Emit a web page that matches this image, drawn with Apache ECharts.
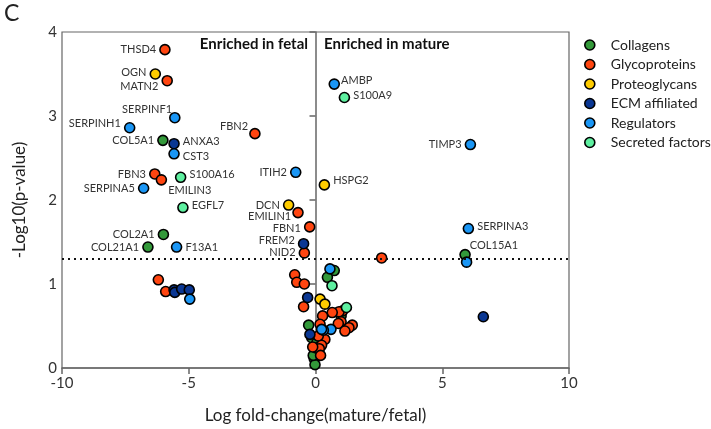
<!DOCTYPE html>
<html>
<head>
<meta charset="utf-8">
<script src="https://cdn.jsdelivr.net/npm/echarts@6/dist/echarts.min.js"></script>
<style>
  html, body { margin: 0; padding: 0; background: #fff; }
  #chart { width: 711px; height: 429px; }
</style>
</head>
<body>
<div id="chart"></div>
<script>
// categories
var categories = ['Collagens', 'Glycoproteins', 'Proteoglycans', 'ECM affiliated', 'Regulators', 'Secreted factors'];
var catColors = ['#33993a', '#ff4510', '#ffcc00', '#0a3793', '#1a96f5', '#5ef0a0'];

// values per category: log fold-change, -log10(p), gene name ('' = unlabeled)
var collagenX = [-6.02, -6.0, -6.61, 5.90, 0.74, 0.47, 1.01, -0.27, -0.15, 0.05, 0.05, -0.05, -0.02, -0.09, 0.02];
var collagenY = [2.71, 1.59, 1.44, 1.35, 1.16, 1.08, 0.62, 0.51, 0.36, 0.30, 0.19, 0.11, 0.04, 0.15, 0.24];
var collagenNames = ['COL5A1', 'COL2A1', 'COL21A1', 'COL15A1', '', '', '', '', '', '', '', '', '', '', ''];

var glycoX = [-5.94, -5.85, -2.39, -6.34, -6.08, -0.69, -0.23, -0.44, 2.61, -6.20, -5.91, -0.82, -0.74, -0.44, -0.47, 1.07, 0.93, 0.66, 0.28, 1.01, 0.90, 1.45, 1.32, 1.16, 0.18, 0.37, 0.11, 0.24, 0.15, -0.11, 0.20];
var glycoY = [3.79, 3.42, 2.79, 2.31, 2.24, 1.85, 1.68, 1.37, 1.31, 1.05, 0.91, 1.11, 1.02, 1.00, 0.73, 0.68, 0.67, 0.66, 0.62, 0.55, 0.53, 0.51, 0.48, 0.44, 0.52, 0.34, 0.38, 0.27, 0.23, 0.25, 0.15];
var glycoNames = ['THSD4', 'MATN2', 'FBN2', 'FBN3', 'EMILIN3', 'EMILIN1', 'FBN1', 'NID2', '', '', '', '', '', '', '', '', '', '', '', '', '', '', '', '', '', '', '', '', '', '', ''];

var proteoX = [-6.32, -1.06, 0.35, 0.18, 0.37];
var proteoY = [3.50, 1.94, 2.18, 0.82, 0.76];
var proteoNames = ['OGN', 'DCN', 'HSPG2', '', ''];

var ecmX = [-5.58, -0.47, -5.58, -5.55, -5.28, -4.98, 6.62, -0.31, -0.22];
var ecmY = [2.67, 1.48, 0.93, 0.90, 0.94, 0.93, 0.61, 0.84, 0.40];
var ecmNames = ['ANXA3', 'FREM2', '', '', '', '', '', '', ''];

var regX = [-5.55, -7.33, -5.58, -6.78, -0.78, -5.48, 0.74, 6.11, 6.03, 5.96, -4.96, 0.57, 0.61, 0.31, 0.24];
var regY = [2.98, 2.86, 2.55, 2.14, 2.33, 1.44, 3.38, 2.66, 1.66, 1.26, 0.82, 1.18, 0.46, 0.45, 0.46];
var regNames = ['SERPINF1', 'SERPINH1', 'CST3', 'SERPINA5', 'ITIH2', 'F13A1', 'AMBP', 'TIMP3', 'SERPINA3', '', '', '', '', '', ''];

var secX = [-5.32, -5.23, 1.14, 0.65, 1.22];
var secY = [2.27, 1.91, 3.22, 0.98, 0.72];
var secNames = ['S100A16', 'EGFL7', 'S100A9', '', ''];

var xTicks = [-10, -5, 0, 5, 10];
var yTicks = [0, 1, 2, 3, 4];
var pCutoff = 1.3;

// label placement: side, dx, dy
var labelPos = {
  THSD4: ['left', 0, 0], MATN2: ['left', 0, 6], FBN2: ['left', 2, -7],
  FBN3: ['left', 0, 0], EMILIN3: ['right', -2, 11], EMILIN1: ['left', 2, 4],
  FBN1: ['left', 0, 2], NID2: ['left', 0, 0], OGN: ['left', 0, -2],
  DCN: ['left', 0, 0], HSPG2: ['right', 0, -4], ANXA3: ['right', 0, -2],
  FREM2: ['left', 0, -3], SERPINF1: ['left', 6, -8], SERPINH1: ['left', 0, -4],
  CST3: ['right', 0, 3], SERPINA5: ['left', 0, 0], ITIH2: ['left', 0, 0],
  F13A1: ['right', 0, 0], AMBP: ['right', -2, -4], TIMP3: ['left', 0, 0],
  SERPINA3: ['right', 0, -2], S100A16: ['right', 0, -3], EGFL7: ['right', 0, -2],
  S100A9: ['right', 0, -2], COL5A1: ['left', 0, 0], COL2A1: ['left', 0, 0],
  COL21A1: ['left', 0, 0], COL15A1: ['right', -4, -9]
};

function buildData(xs, ys, names) {
  return xs.map(function (x, i) {
    var item = { value: [x, ys[i]], name: names[i] };
    var p = labelPos[names[i]];
    if (names[i] && p) {
      item.label = { show: true, position: p[0], offset: [p[1], p[2]] };
    }
    return item;
  });
}

var groups = [
  [collagenX, collagenY, collagenNames],
  [glycoX, glycoY, glycoNames],
  [proteoX, proteoY, proteoNames],
  [ecmX, ecmY, ecmNames],
  [regX, regY, regNames],
  [secX, secY, secNames]
];

var series = [{
  type: 'line',
  data: [],
  silent: true,
  markLine: {
    silent: true,
    symbol: 'none',
    label: { show: false },
    data: [
      [{ coord: [0, -0.1] }, { coord: [0, 4] }],
      [{ coord: [-10, pCutoff], lineStyle: { color: '#111', width: 2, type: [2, 4] } }, { coord: [10, pCutoff] }]
    ],
    lineStyle: { color: '#111', width: 1.3, type: 'solid' }
  }
}];

groups.forEach(function (g, i) {
  series.push({
    name: categories[i],
    type: 'scatter',
    symbolSize: 10,
    z: 3,
    itemStyle: { color: catColors[i], borderColor: '#000', borderWidth: 1.6, opacity: 1 },
    label: {
      show: false,
      formatter: '{b}',
      fontSize: 11,
      fontFamily: 'Lato',
      color: '#333',
      distance: 3
    },
    data: buildData(g[0], g[1], g[2])
  });
});

var chart = echarts.init(document.getElementById('chart'));
var option = {
  animation: false,
  backgroundColor: '#fff',
  grid: { left: 62, right: 142, top: 32, bottom: 60, show: true, borderColor: '#666', borderWidth: 1.2 },
  legend: {
    data: categories,
    orient: 'vertical',
    left: 584,
    top: 37,
    padding: 0,
    icon: 'circle',
    itemWidth: 10,
    itemHeight: 10,
    itemGap: 3.5,
    itemStyle: { borderColor: '#000', borderWidth: 1.6 },
    textStyle: { fontFamily: 'Lato', fontSize: 14, color: '#222', lineHeight: 16, padding: [0, 0, 0, 11] }
  },
  xAxis: {
    type: 'value',
    min: -10, max: 10, interval: 5,
    name: 'Log fold-change(mature/fetal)',
    nameLocation: 'middle',
    nameGap: 39,
    nameTextStyle: { fontFamily: 'Lato', fontSize: 17, color: '#222' },
    axisLine: { onZero: false, lineStyle: { color: '#666', width: 1.5 } },
    axisTick: { show: true, length: 6, lineStyle: { color: '#666', width: 1.5 } },
    axisLabel: { fontFamily: 'Lato', fontSize: 15, color: '#333', margin: 8,
      formatter: function (v) { return xTicks.indexOf(v) >= 0 ? String(v) : ''; } },
    splitLine: { show: false }
  },
  yAxis: {
    type: 'value',
    min: 0, max: 4, interval: 1,
    name: '-Log10(p-value)',
    nameLocation: 'middle',
    nameGap: 34,
    nameTextStyle: { fontFamily: 'Lato', fontSize: 17, color: '#222' },
    axisLine: { show: true, lineStyle: { color: '#666', width: 1.5 } },
    axisTick: { show: true, length: 6, lineStyle: { color: '#666', width: 1.5 } },
    axisLabel: { fontFamily: 'Lato', fontSize: 15, color: '#333', margin: 5,
      formatter: function (v) { return yTicks.indexOf(v) >= 0 ? String(v) : ''; } },
    splitLine: { show: false }
  },
  graphic: [
    { type: 'text', left: 4, top: 2, style: { text: 'C', fontFamily: 'Lato', fontSize: 23, fill: '#222' } },
    { type: 'text', right: 403, top: 37, style: { text: 'Enriched in fetal', fontFamily: 'Lato', fontWeight: 'bold', fontSize: 15, fill: '#111' } },
    { type: 'text', left: 324, top: 37, style: { text: 'Enriched in mature', fontFamily: 'Lato', fontWeight: 'bold', fontSize: 15, fill: '#111' } }
  ],
  series: series
};
chart.setOption(option);
</script>
</body>
</html>
